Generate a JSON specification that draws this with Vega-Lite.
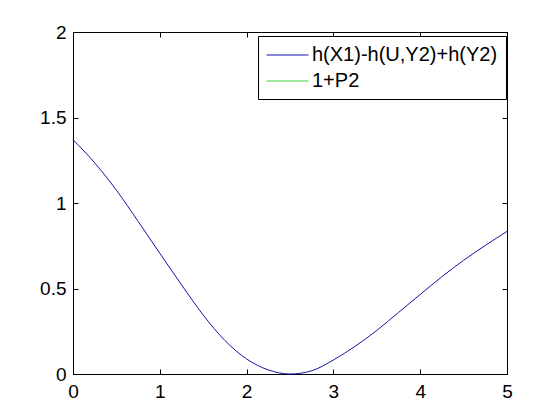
{
  "$schema": "https://vega.github.io/schema/vega-lite/v6.json",
  "width": 434,
  "height": 342,
  "autosize": "none",
  "padding": {"left": 73, "top": 32, "right": 53, "bottom": 46},
  "background": "white",
  "config": {"view": {"stroke": "black", "strokeWidth": 1}, "font": "Liberation Sans"},
  "data": {"values": [
    {"x": 0, "y": 1.37, "series": "h(X1)-h(U,Y2)+h(Y2)"},
    {"x": 0.25, "y": 1.235, "series": "h(X1)-h(U,Y2)+h(Y2)"},
    {"x": 0.5, "y": 1.075, "series": "h(X1)-h(U,Y2)+h(Y2)"},
    {"x": 0.75, "y": 0.893, "series": "h(X1)-h(U,Y2)+h(Y2)"},
    {"x": 1.0, "y": 0.706, "series": "h(X1)-h(U,Y2)+h(Y2)"},
    {"x": 1.25, "y": 0.522, "series": "h(X1)-h(U,Y2)+h(Y2)"},
    {"x": 1.5, "y": 0.345, "series": "h(X1)-h(U,Y2)+h(Y2)"},
    {"x": 1.75, "y": 0.196, "series": "h(X1)-h(U,Y2)+h(Y2)"},
    {"x": 2.0, "y": 0.088, "series": "h(X1)-h(U,Y2)+h(Y2)"},
    {"x": 2.25, "y": 0.024, "series": "h(X1)-h(U,Y2)+h(Y2)"},
    {"x": 2.5, "y": 0.0, "series": "h(X1)-h(U,Y2)+h(Y2)"},
    {"x": 2.75, "y": 0.019, "series": "h(X1)-h(U,Y2)+h(Y2)"},
    {"x": 3.0, "y": 0.082, "series": "h(X1)-h(U,Y2)+h(Y2)"},
    {"x": 3.25, "y": 0.162, "series": "h(X1)-h(U,Y2)+h(Y2)"},
    {"x": 3.5, "y": 0.255, "series": "h(X1)-h(U,Y2)+h(Y2)"},
    {"x": 3.75, "y": 0.36, "series": "h(X1)-h(U,Y2)+h(Y2)"},
    {"x": 4.0, "y": 0.465, "series": "h(X1)-h(U,Y2)+h(Y2)"},
    {"x": 4.25, "y": 0.569, "series": "h(X1)-h(U,Y2)+h(Y2)"},
    {"x": 4.5, "y": 0.665, "series": "h(X1)-h(U,Y2)+h(Y2)"},
    {"x": 4.75, "y": 0.752, "series": "h(X1)-h(U,Y2)+h(Y2)"},
    {"x": 5.0, "y": 0.834, "series": "h(X1)-h(U,Y2)+h(Y2)"}
  ]},
  "layer": [
    {
      "mark": {"type": "line", "strokeWidth": 1, "interpolate": "monotone"},
      "encoding": {
        "x": {"field": "x", "type": "quantitative", "scale": {"domain": [0, 5], "nice": false},
          "axis": {"orient": "bottom", "values": [0, 1, 2, 3, 4, 5], "format": "d", "grid": false, "title": null,
            "tickSize": -5, "labelPadding": 13, "labelFontSize": 19, "labelColor": "black", "domainColor": "black", "tickColor": "black", "labelFlush": false}},
        "y": {"field": "y", "type": "quantitative", "scale": {"domain": [0, 2], "nice": false},
          "axis": {"orient": "left", "values": [0, 0.5, 1, 1.5, 2], "format": "~g", "grid": false, "title": null,
            "tickSize": -5, "labelPadding": 12, "labelFontSize": 19, "labelColor": "black", "domainColor": "black", "tickColor": "black", "labelFlush": false}},
        "color": {"field": "series", "type": "nominal",
          "scale": {"domain": ["h(X1)-h(U,Y2)+h(Y2)", "1+P2"], "range": ["#1414a8", "#40d040"]},
          "legend": {"orient": "none", "legendX": 185, "legendY": 4, "title": null, "symbolType": "M-1,0H3", "symbolSize": 441,
            "symbolStrokeWidth": 1, "labelFontSize": 20, "labelColor": "black", "labelOffset": 24, "padding": 8,
            "strokeColor": "black", "fillColor": "white", "rowPadding": 5, "labelLimit": 400}}
      }
    },
    {
      "mark": {"type": "line", "opacity": 0},
      "encoding": {
        "x": {"field": "x", "type": "quantitative",
          "axis": {"orient": "top", "values": [0, 1, 2, 3, 4, 5], "labels": false, "grid": false, "title": null,
            "tickSize": -5, "domainColor": "black", "tickColor": "black"}},
        "y": {"field": "y", "type": "quantitative",
          "axis": {"orient": "right", "values": [0, 0.5, 1, 1.5, 2], "labels": false, "grid": false, "title": null,
            "tickSize": -5, "domainColor": "black", "tickColor": "black"}}
      }
    }
  ],
  "resolve": {"axis": {"x": "independent", "y": "independent"}}
}
